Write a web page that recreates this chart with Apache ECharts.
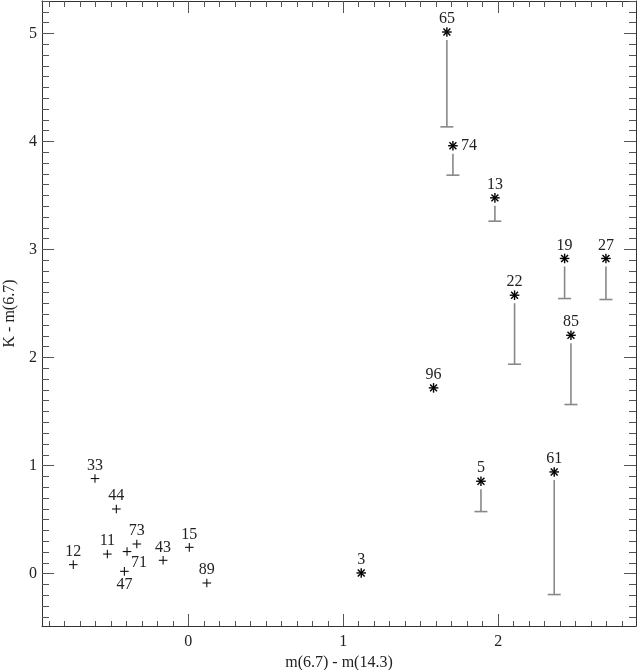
<!DOCTYPE html>
<html>
<head>
<meta charset="utf-8">
<script src="https://cdn.jsdelivr.net/npm/echarts@6/dist/echarts.min.js"></script>
<style>
  html, body { margin: 0; padding: 0; background: #fff; }
  #chart { width: 638px; height: 670px; }
</style>
</head>
<body>
<div id="chart"></div>
<script>
/* K - m(6.7) vs m(6.7) - m(14.3) colour-colour plot
   plus markers: no error bar; asterisks: lower error bar */
var plusIds = ['33', '44', '73', '71', '11', '12', '47', '43', '15', '89'];
var plusX = [-0.603, -0.465, -0.333, -0.396, -0.523, -0.743, -0.413, -0.163, 0.006, 0.119];
var plusY = [0.880, 0.598, 0.274, 0.204, 0.181, 0.083, 0.021, 0.123, 0.243, -0.087];
var plusPos = ['top', 'top', 'top', 'belowRight', 'top', 'top', 'below', 'top', 'top', 'top'];

var starIds = ['65', '74', '13', '19', '27', '22', '85', '96', '5', '61', '3'];
var starX = [1.669, 1.708, 1.979, 2.429, 2.696, 2.106, 2.470, 1.583, 1.889, 2.362, 1.116];
var starY = [5.013, 3.960, 3.478, 2.917, 2.917, 2.577, 2.206, 1.719, 0.855, 0.941, 0.006];
var starLow = [4.135, 3.688, 3.262, 2.546, 2.537, 1.938, 1.565, null, 0.574, -0.194, null];
var starPos = ['top', 'right', 'top', 'top', 'top', 'top', 'top', 'top', 'top', 'top', 'top'];

var xMajor = [0, 1, 2];
var yMajor = [0, 1, 2, 3, 4, 5];

;(function() {
  'use strict';

  var FAMILY = "'Times New Roman', 'Liberation Serif', serif";
  var FONT = '16px ' + FAMILY;
  var TXT = '#222';
  var X_MIN = -0.945, X_MAX = 2.89;
  var Y_MIN = -0.485, Y_MAX = 5.30;

  // minor ticks every 0.1 inside the axis range
  function minors(lo, hi) {
    var out = [];
    for (var k = Math.ceil(lo * 10); k <= Math.floor(hi * 10); k++) {
      if (k % 10 !== 0) out.push(k / 10);
    }
    return out;
  }
  var xMinor = minors(X_MIN, X_MAX);
  var yMinor = minors(Y_MIN, Y_MAX);

  function seg(x1, y1, x2, y2, color, w) {
    return {
      type: 'line',
      shape: { x1: x1, y1: y1, x2: x2, y2: y2 },
      style: { stroke: color, lineWidth: w }
    };
  }

  function label(text, p, pos) {
    var s = { text: text, font: FONT, fill: TXT, x: p[0], y: p[1] - 13, align: 'center', verticalAlign: 'middle' };
    if (pos === 'right') { s.x = p[0] + 8; s.y = p[1]; s.align = 'left'; }
    if (pos === 'below') { s.y = p[1] + 13; }
    if (pos === 'belowRight') { s.x = p[0] + 4; s.y = p[1] + 11; s.align = 'left'; }
    return { type: 'text', style: s };
  }

  function renderPlus(params, api) {
    var i = params.dataIndex;
    var p = api.coord([api.value(0), api.value(1)]);
    var r = 4.3;
    return {
      type: 'group',
      children: [
        seg(p[0] - r, p[1], p[0] + r, p[1], '#111', 1.1),
        seg(p[0], p[1] - r, p[0], p[1] + r, '#111', 1.1),
        label(plusIds[i], p, plusPos[i])
      ]
    };
  }

  function renderStar(params, api) {
    var i = params.dataIndex;
    var p = api.coord([api.value(0), api.value(1)]);
    var r = 4.8, d = r * 0.72;
    var kids = [];
    if (starLow[i] != null) {
      var q = api.coord([api.value(0), starLow[i]]);
      kids.push(seg(p[0], p[1] + 8, p[0], q[1], '#888', 1.6));
      kids.push(seg(p[0] - 6.5, q[1], p[0] + 6.5, q[1], '#888', 1.6));
    }
    kids.push(seg(p[0] - r, p[1], p[0] + r, p[1], '#000', 1.4));
    kids.push(seg(p[0], p[1] - r, p[0], p[1] + r, '#000', 1.4));
    kids.push(seg(p[0] - d, p[1] - d, p[0] + d, p[1] + d, '#000', 1.4));
    kids.push(seg(p[0] - d, p[1] + d, p[0] + d, p[1] - d, '#000', 1.4));
    kids.push(label(starIds[i], p, starPos[i]));
    return { type: 'group', children: kids };
  }

  function xAx(pos, ticks, len, main) {
    return {
      type: 'value', position: pos, min: X_MIN, max: X_MAX,
      axisLine: { show: main, onZero: false, lineStyle: { color: '#333', width: 1 } },
      axisTick: { show: true, inside: true, length: len, customValues: ticks, lineStyle: { color: '#555', width: 1 } },
      axisLabel: { show: main && pos === 'bottom', customValues: xMajor, margin: 8,
        fontFamily: FAMILY, fontSize: 16, color: TXT },
      splitLine: { show: false },
      name: main && pos === 'bottom' ? 'm(6.7) - m(14.3)' : '',
      nameLocation: 'middle', nameGap: 27,
      nameTextStyle: { fontFamily: FAMILY, fontSize: 16, color: TXT }
    };
  }

  function yAx(pos, ticks, len, main) {
    return {
      type: 'value', position: pos, min: Y_MIN, max: Y_MAX,
      axisLine: { show: main, onZero: false, lineStyle: { color: '#333', width: 1 } },
      axisTick: { show: true, inside: true, length: len, customValues: ticks, lineStyle: { color: '#555', width: 1 } },
      axisLabel: { show: main && pos === 'left', customValues: yMajor, margin: 5,
        fontFamily: FAMILY, fontSize: 16, color: TXT },
      splitLine: { show: false },
      name: main && pos === 'left' ? 'K - m(6.7)' : '',
      nameLocation: 'middle', nameGap: 24,
      nameTextStyle: { fontFamily: FAMILY, fontSize: 16, color: TXT }
    };
  }

  var chart = echarts.init(document.getElementById('chart'));
  chart.setOption({
    animation: false,
    grid: { left: 42, right: 2, top: 1, bottom: 44, outerBoundsMode: 'none', containLabel: false },
    xAxis: [
      xAx('bottom', xMajor, 12, true),
      xAx('bottom', xMinor, 5, false),
      xAx('top', xMajor, 12, true),
      xAx('top', xMinor, 6, false)
    ],
    yAxis: [
      yAx('left', yMajor, 12, true),
      yAx('left', yMinor, 7, false),
      yAx('right', yMajor, 12, true),
      yAx('right', yMinor, 7, false)
    ],
    series: [
      {
        type: 'custom', name: 'plus',
        renderItem: renderPlus,
        data: plusX.map(function(x, i) { return [x, plusY[i]]; })
      },
      {
        type: 'custom', name: 'star',
        renderItem: renderStar,
        data: starX.map(function(x, i) { return [x, starY[i]]; })
      }
    ]
  });
})();
</script>
</body>
</html>
